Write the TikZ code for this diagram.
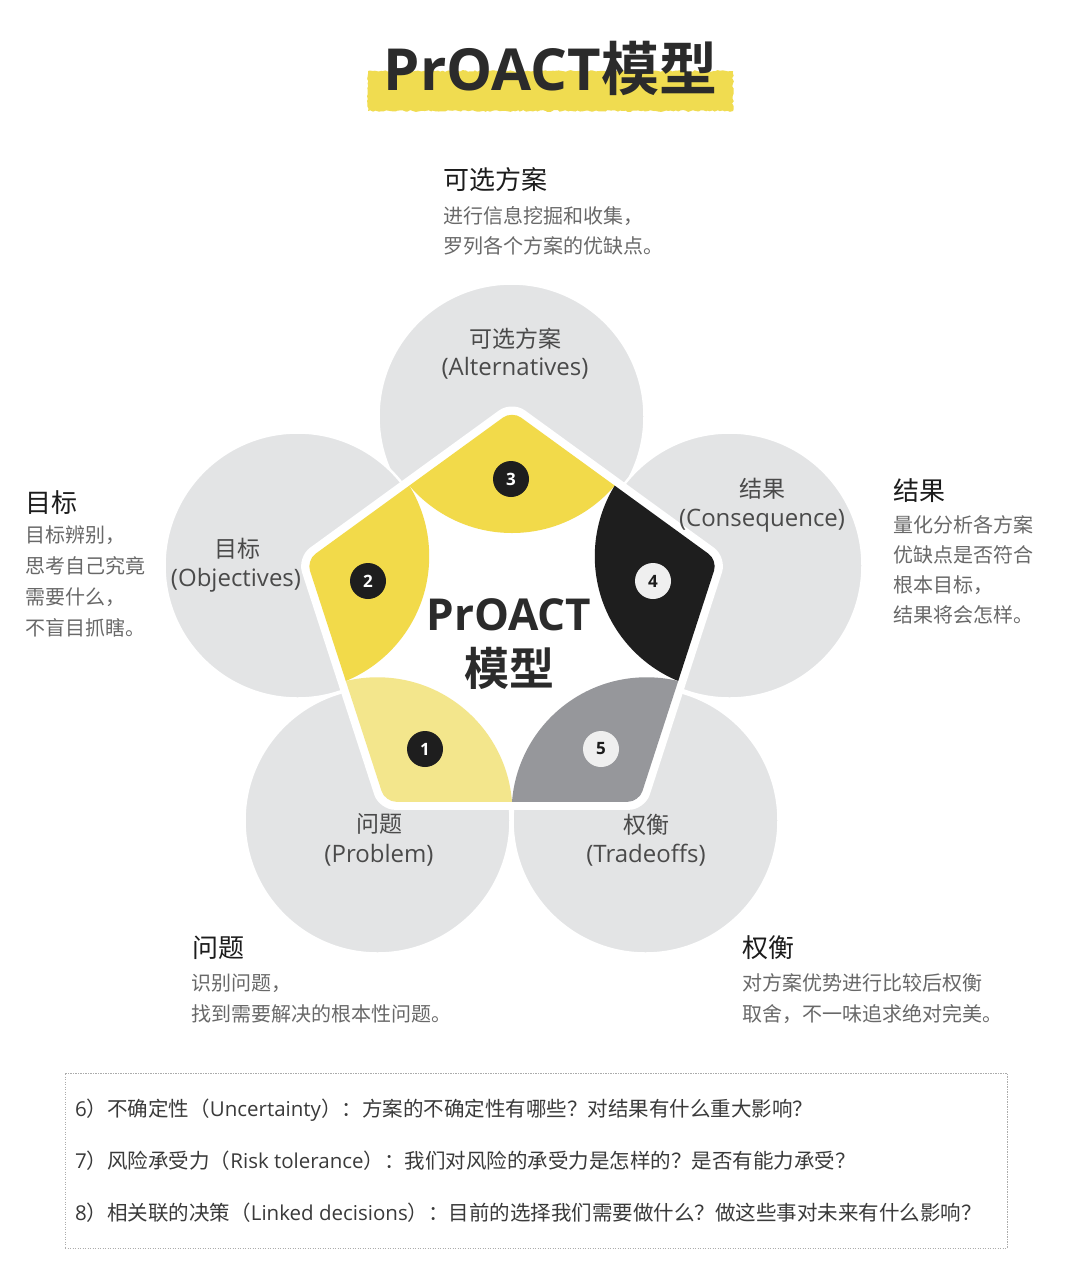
\documentclass[tikz,border=0pt]{standalone}
\usepackage{fontspec}
\setmainfont{Noto Sans CJK SC}[BoldFont={Noto Sans CJK SC Bold}]
\newfontfamily\lat{Open Sans}
\usetikzlibrary{decorations.pathmorphing}
\definecolor{ylw}{HTML}{F2DA4A}
\definecolor{lylw}{HTML}{F3E68C}
\definecolor{band}{HTML}{F0DC50}
\definecolor{blk}{HTML}{1E1E1E}
\definecolor{gry}{HTML}{96979B}
\definecolor{cgray}{HTML}{E3E4E5}
\definecolor{ttl}{HTML}{2B2B2B}
\definecolor{headc}{HTML}{1C1C1C}
\definecolor{descc}{HTML}{686868}
\definecolor{lblc}{HTML}{4A4A4A}
\definecolor{boxc}{HTML}{3A3A3A}
\definecolor{numw}{HTML}{EFEFEF}
\begin{document}
\begin{tikzpicture}[x=1pt,y=-1pt,
  headtxt/.style={anchor=west, inner sep=0pt, text=headc, font=\fontsize{26}{30}\selectfont},
  desctxt/.style={anchor=west, inner sep=0pt, text=descc, font=\fontsize{20}{24}\selectfont},
  lbltxt/.style={inner sep=0pt, text=lblc, font=\fontsize{23}{28}\selectfont},
  lbllat/.style={inner sep=0pt, text=lblc, font=\lat\fontsize{24}{28}\selectfont},
  boxtxt/.style={anchor=west, inner sep=0pt, text=boxc, font=\fontsize{20.5}{24}\selectfont},
  petal/.style={circle, minimum size=266pt, inner sep=0pt, fill=cgray, draw=white, line width=2.5pt},
  numdark/.style={circle, minimum size=36pt, inner sep=0pt, fill=blk, text=white, font=\lat\bfseries\fontsize{17}{17}\selectfont},
  numlight/.style={circle, minimum size=36pt, inner sep=0pt, fill=numw, text=headc, font=\lat\bfseries\fontsize{17}{17}\selectfont}
]
\useasboundingbox (0,0) rectangle (1080,1272);
\fill[white] (0,0) rectangle (1080,1272);

% title
\fill[band, decorate, decoration={random steps, segment length=2.5pt, amplitude=0.9pt}] (368,71) rectangle (733,111);
\node[anchor=base, inner sep=0pt, text=ttl, font=\bfseries\fontsize{58}{60}\selectfont] (title) at (550.5,90) {{\lat PrOACT}模型};

% grey circles
\node[petal] (cA) at (511.5,416.5) {};
\node[petal] (cO) at (297.5,565.5) {};
\node[petal] (cC) at (729.5,565.5) {};
\node[petal] (cP) at (377.5,820.5) {};
\node[petal] (cT) at (645.5,820.5) {};

% pentagon
\begin{scope}[shift={(512,627)}]
  \fill[white, rounded corners=16pt] (-90:226) -- (-18:226) -- (54:226) -- (126:226) -- (198:226) -- cycle;
  \clip[rounded corners=11pt] (-90:216) -- (-18:216) -- (54:216) -- (126:216) -- (198:216) -- cycle;
  \fill[lylw] (126:229) circle[radius=135];
  \fill[ylw] (198:229) circle[radius=135];
  \fill[ylw] (-90:229) circle[radius=135];
  \fill[blk] (-18:229) circle[radius=135];
  \fill[gry] (54:229) circle[radius=135];
\end{scope}

% numbers
\node[numdark] (n3) at (511,479) {3};
\node[numdark] (n2) at (368,581) {2};
\node[numdark] (n1) at (425,749) {1};
\node[numlight] (n4) at (653,581) {4};
\node[numlight] (n5) at (601,749) {5};

% centre text
\node[anchor=base, inner sep=0pt, text=ttl, font=\lat\bfseries\fontsize{44}{44}\selectfont] (c1) at (509,630) {PrOACT};
\node[inner sep=0pt, text=ttl, font=\bfseries\fontsize{45}{45}\selectfont] (c2) at (509.5,668) {模型};

% circle labels
\node[lbltxt] (lA1) at (515,339) {可选方案};
\node[lbllat] (lA2) at (515,368) {(Alternatives)};
\node[lbltxt] (lO1) at (237,549) {目标};
\node[lbllat] (lO2) at (236,580) {(Objectives)};
\node[lbltxt] (lC1) at (762,489) {结果};
\node[lbllat] (lC2) at (762,521) {(Consequence)};
\node[lbltxt] (lP1) at (379,824) {问题};
\node[lbllat] (lP2) at (379,855) {(Problem)};
\node[lbltxt] (lT1) at (646,825) {权衡};
\node[lbllat] (lT2) at (646,855) {(Tradeoffs)};

% outer descriptions
\node[headtxt] (hA) at (443,180) {可选方案};
\node[desctxt] (dA1) at (443,216) {进行信息挖掘和收集，};
\node[desctxt] (dA2) at (443,246) {罗列各个方案的优缺点。};

\node[headtxt] (hO) at (25,503) {目标};
\node[desctxt] (dO1) at (25,535) {目标辨别，};
\node[desctxt] (dO2) at (25,566) {思考自己究竟};
\node[desctxt] (dO3) at (25,597) {需要什么，};
\node[desctxt] (dO4) at (25,628) {不盲目抓瞎。};

\node[headtxt] (hC) at (893,491) {结果};
\node[desctxt] (dC1) at (893,525) {量化分析各方案};
\node[desctxt] (dC2) at (893,555) {优缺点是否符合};
\node[desctxt] (dC3) at (893,585) {根本目标，};
\node[desctxt] (dC4) at (893,615) {结果将会怎样。};

\node[headtxt] (hP) at (192,948) {问题};
\node[desctxt] (dP1) at (191,983) {识别问题，};
\node[desctxt] (dP2) at (191,1014) {找到需要解决的根本性问题。};

\node[headtxt] (hT) at (742,948) {权衡};
\node[desctxt] (dT1) at (742,983) {对方案优势进行比较后权衡};
\node[desctxt] (dT2) at (742,1014) {取舍，不一味追求绝对完美。};

% bottom box
\node[draw=gray!65, dash pattern=on 1.2pt off 1.3pt, line width=1pt, minimum width=942pt, minimum height=175pt, inner sep=0pt] (box) at (536,1160.5) {};
\node[boxtxt] (q6) at (75,1110) {{\lat 6}）不确定性（{\lat Uncertainty}）：方案的不确定性有哪些？对结果有什么重大影响？};
\node[boxtxt] (q7) at (75,1161) {{\lat 7}）风险承受力（{\lat Risk tolerance}）：我们对风险的承受力是怎样的？是否有能力承受？};
\node[boxtxt] (q8) at (75,1213) {{\lat 8}）相关联的决策（{\lat Linked decisions}）：目前的选择我们需要做什么？做这些事对未来有什么影响？};
\end{tikzpicture}
\end{document}
